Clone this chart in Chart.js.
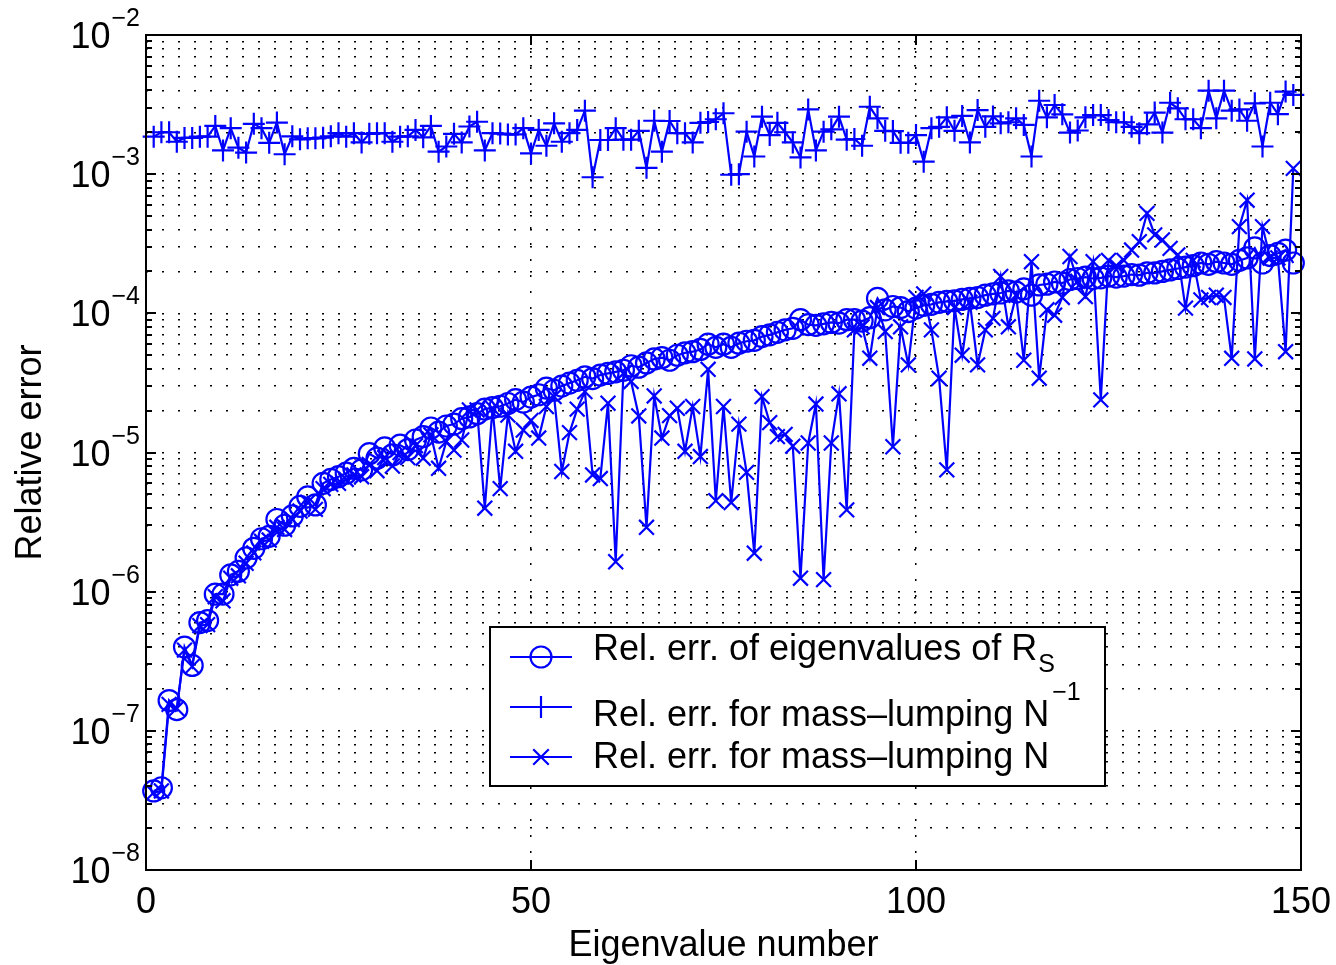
<!DOCTYPE html>
<html>
<head>
<meta charset="utf-8">
<title>Relative error of eigenvalues</title>
<script src="https://cdn.jsdelivr.net/npm/chart.js@4.4.1/dist/chart.umd.min.js"></script>
<style>
  html, body { margin: 0; padding: 0; background: #fff; }
  canvas { display: block; }
</style>
</head>
<body>
<canvas id="relErr" width="1336" height="965"></canvas>
<script>
// rel. err. of eigenvalues of R_S (circles)
const relErrRS = [
  3.7e-8, 3.9e-8, 1.65e-7, 1.42e-7, 4.0e-7, 2.95e-7, 6.0e-7, 6.2e-7, 9.6e-7, 9.6e-7,
  1.32e-6, 1.4e-6, 1.75e-6, 2.05e-6, 2.4e-6, 2.5e-6, 3.3e-6, 3.0e-6, 3.5e-6, 4.1e-6,
  4.8e-6, 4.2e-6, 6.0e-6, 6.4e-6, 6.7e-6, 7.1e-6, 7.7e-6, 7.5e-6, 9.8e-6, 9.1e-6,
  1.08e-5, 9.6e-6, 1.13e-5, 1.05e-5, 1.23e-5, 1.3e-5, 1.5e-5, 1.4e-5, 1.55e-5, 1.6e-5,
  1.75e-5, 1.8e-5, 1.9e-5, 2.05e-5, 2.1e-5, 2.15e-5, 2.25e-5, 2.4e-5, 2.3e-5, 2.5e-5,
  2.6e-5, 2.9e-5, 2.8e-5, 3.0e-5, 3.15e-5, 3.3e-5, 3.5e-5, 3.4e-5, 3.6e-5, 3.7e-5,
  3.8e-5, 3.9e-5, 4.2e-5, 4.1e-5, 4.4e-5, 4.7e-5, 4.8e-5, 4.6e-5, 5.0e-5, 5.2e-5,
  5.3e-5, 5.5e-5, 6.0e-5, 5.7e-5, 6.0e-5, 5.7e-5, 6.1e-5, 6.3e-5, 6.4e-5, 6.8e-5,
  7.0e-5, 7.3e-5, 7.6e-5, 7.8e-5, 9.0e-5, 8.3e-5, 8.2e-5, 8.4e-5, 8.6e-5, 8.5e-5,
  9.0e-5, 9.0e-5, 8.8e-5, 9.3e-5, 1.28e-4, 1.06e-4, 1.12e-4, 1.1e-4, 1.03e-4, 1.09e-4,
  1.14e-4, 1.16e-4, 1.2e-4, 1.22e-4, 1.23e-4, 1.26e-4, 1.28e-4, 1.3e-4, 1.35e-4, 1.38e-4,
  1.4e-4, 1.45e-4, 1.42e-4, 1.5e-4, 1.35e-4, 1.6e-4, 1.62e-4, 1.68e-4, 1.65e-4, 1.75e-4,
  1.78e-4, 1.82e-4, 1.78e-4, 1.8e-4, 1.85e-4, 1.82e-4, 1.85e-4, 1.9e-4, 1.88e-4, 1.95e-4,
  1.95e-4, 2.0e-4, 2.05e-4, 2.1e-4, 2.15e-4, 2.2e-4, 2.3e-4, 2.25e-4, 2.35e-4, 2.3e-4,
  2.25e-4, 2.4e-4, 2.5e-4, 2.95e-4, 2.3e-4, 2.6e-4, 2.7e-4, 2.85e-4, 2.3e-4
];

// mass-lumping N^-1 (plus markers)
const relErrNinv = [
  1.86e-3, 2.0e-3, 2.0e-3, 1.71e-3, 1.82e-3, 1.82e-3, 1.86e-3, 1.86e-3, 2.22e-3, 1.48e-3,
  2.14e-3, 1.55e-3, 1.43e-3, 2.3e-3, 2.14e-3, 1.68e-3, 2.35e-3, 1.39e-3, 1.87e-3, 1.78e-3,
  1.81e-3, 1.81e-3, 1.83e-3, 1.87e-3, 1.97e-3, 1.86e-3, 1.97e-3, 1.69e-3, 1.95e-3, 1.97e-3,
  1.97e-3, 1.71e-3, 1.86e-3, 1.87e-3, 2.08e-3, 1.84e-3, 2.22e-3, 1.45e-3, 1.58e-3, 1.95e-3,
  1.69e-3, 2.2e-3, 2.38e-3, 1.48e-3, 1.97e-3, 1.96e-3, 1.93e-3, 1.93e-3, 2.14e-3, 1.41e-3,
  2.08e-3, 1.6e-3, 2.32e-3, 1.71e-3, 1.97e-3, 2.08e-3, 2.86e-3, 0.95e-3, 1.76e-3, 1.76e-3,
  2.14e-3, 1.77e-3, 1.77e-3, 2.05e-3, 1.11e-3, 2.42e-3, 1.45e-3, 2.41e-3, 1.97e-3, 1.97e-3,
  1.69e-3, 2.34e-3, 2.37e-3, 2.48e-3, 2.74e-3, 0.99e-3, 1.0e-3, 2.02e-3, 1.34e-3, 2.59e-3,
  1.91e-3, 2.34e-3, 2.0e-3, 1.69e-3, 1.32e-3, 2.92e-3, 1.48e-3, 2.02e-3, 2.1e-3, 2.59e-3,
  1.77e-3, 1.79e-3, 1.6e-3, 3.05e-3, 2.52e-3, 2.05e-3, 2.04e-3, 1.68e-3, 1.68e-3, 1.91e-3,
  1.23e-3, 2.14e-3, 2.19e-3, 2.56e-3, 2.05e-3, 2.62e-3, 1.69e-3, 2.89e-3, 2.19e-3, 2.6e-3,
  2.32e-3, 2.36e-3, 2.52e-3, 2.26e-3, 1.34e-3, 3.37e-3, 2.56e-3, 3.14e-3, 2.69e-3, 1.99e-3,
  2.06e-3, 2.56e-3, 2.66e-3, 2.66e-3, 2.45e-3, 2.36e-3, 2.36e-3, 2.19e-3, 1.97e-3, 2.28e-3,
  2.77e-3, 1.99e-3, 3.26e-3, 2.97e-3, 2.48e-3, 2.48e-3, 2.14e-3, 3.98e-3, 2.52e-3, 3.98e-3,
  2.86e-3, 2.92e-3, 2.42e-3, 3.23e-3, 1.58e-3, 3.26e-3, 2.7e-3, 3.92e-3, 3.71e-3
];

// mass-lumping N (x markers)
const relErrN = [
  3.6e-8, 3.7e-8, 1.55e-7, 1.45e-7, 3.8e-7, 2.9e-7, 5.7e-7, 5.8e-7, 9.2e-7, 8.6e-7,
  1.25e-6, 1.3e-6, 1.6e-6, 1.9e-6, 2.3e-6, 2.35e-6, 2.9e-6, 2.8e-6, 3.3e-6, 3.8e-6,
  4.4e-6, 3.9e-6, 5.5e-6, 5.9e-6, 6.0e-6, 6.4e-6, 6.9e-6, 6.7e-6, 8.2e-6, 7.4e-6,
  9.2e-6, 8.0e-6, 1.0e-5, 9.2e-6, 1.12e-5, 9.1e-6, 1.34e-5, 7.7e-6, 1.2e-5, 1.04e-5,
  1.23e-5, 2.02e-5, 2.02e-5, 3.98e-6, 2.08e-5, 5.5e-6, 1.86e-5, 1.02e-5, 1.45e-5, 1.7e-5,
  1.27e-5, 2.14e-5, 2.52e-5, 7.3e-6, 1.39e-5, 2.05e-5, 2.74e-5, 6.9e-6, 6.5e-6, 2.26e-5,
  1.64e-6, 3.7e-5, 3.24e-5, 1.83e-5, 2.9e-6, 2.55e-5, 1.27e-5, 1.84e-5, 2.08e-5, 1.02e-5,
  2.14e-5, 9.35e-6, 3.96e-5, 4.5e-6, 2.14e-5, 4.37e-6, 1.6e-5, 7.2e-6, 1.89e-6, 2.52e-5,
  1.64e-5, 1.3e-5, 1.35e-5, 1.11e-5, 1.25e-6, 1.17e-5, 2.23e-5, 1.22e-6, 1.17e-5, 2.64e-5,
  3.87e-6, 7.6e-5, 8.0e-5, 4.76e-5, 1.1e-4, 7.4e-5, 1.1e-5, 8.0e-5, 4.26e-5, 1.3e-4,
  1.38e-4, 7.6e-5, 3.42e-5, 7.5e-6, 1.1e-4, 5.0e-5, 1.2e-4, 4.26e-5, 7.6e-5, 9.2e-5,
  1.84e-4, 8.0e-5, 1.35e-4, 4.6e-5, 2.35e-4, 3.42e-5, 1.06e-4, 9.7e-5, 1.3e-4, 2.56e-4,
  1.7e-4, 1.32e-4, 2.35e-4, 2.39e-5, 2.4e-4, 2.2e-4, 2.4e-4, 2.85e-4, 3.27e-4, 5.23e-4,
  3.66e-4, 3.37e-4, 2.93e-4, 2.63e-4, 1.09e-4, 2.4e-4, 1.25e-4, 1.3e-4, 1.35e-4, 1.3e-4,
  4.75e-5, 4.2e-4, 6.5e-4, 4.7e-5, 4.2e-4, 2.5e-4, 2.5e-4, 5.3e-5, 1.1e-3
];

// eigenvalue number 1..149
const eigenvalueNumber = relErrRS.map((_, i) => i + 1);

const xTicks = [0, 50, 100, 150];
const yDecades = [-8, -7, -6, -5, -4, -3, -2];

const FONT = "'Liberation Sans', Arial, Helvetica, sans-serif";
const BLUE = '#0000ff';
const FS = 36;   // main font size
const FS_SMALL = 25; // sub/superscripts

// log ticks 1..9 x 10^k, decades are major
const yTickList = [];
yDecades.forEach((e, i) => {
  yTickList.push({ value: Math.pow(10, e), major: true });
  if (i < yDecades.length - 1) {
    for (let m = 2; m <= 9; m++) yTickList.push({ value: m * Math.pow(10, e), major: false });
  }
});

function toPoints(values) {
  return values.map((v, i) => ({ x: eigenvalueNumber[i], y: v }));
}

// legend layout (drawn by hand so that the sub/superscripts are kept)
const legendBox = { left: 490, top: 627, right: 1105, bottom: 786 };
const legendRows = [
  { text: 'Rel. err. of eigenvalues of R', sub: 'S', marker: 'circle', y: 657, base: 660 },
  { text: 'Rel. err. for mass\u2013lumping N', sup: '\u22121', marker: 'cross', y: 707, base: 726 },
  { text: 'Rel. err. for mass\u2013lumping N', marker: 'crossRot', y: 757, base: 768 }
];

function drawMarker(ctx, style, x, y, r) {
  ctx.beginPath();
  if (style === 'circle') {
    ctx.arc(x, y, r, 0, Math.PI * 2);
  } else if (style === 'cross') {
    ctx.moveTo(x - r, y); ctx.lineTo(x + r, y);
    ctx.moveTo(x, y - r); ctx.lineTo(x, y + r);
  } else {
    const d = r * Math.SQRT1_2;
    ctx.moveTo(x - d, y - d); ctx.lineTo(x + d, y + d);
    ctx.moveTo(x - d, y + d); ctx.lineTo(x + d, y - d);
  }
  ctx.stroke();
}

const matlabFrame = {
  id: 'matlabFrame',
  afterDatasetsDraw(chart) {
    const { ctx, chartArea: a, scales: { x, y } } = chart;
    ctx.save();
    ctx.strokeStyle = '#000';
    ctx.lineWidth = 2;
    ctx.strokeRect(a.left, a.top, a.right - a.left, a.bottom - a.top);

    // inward tick marks, left + right, bottom + top
    ctx.beginPath();
    y.ticks.forEach(t => {
      const py = Math.round(y.getPixelForValue(t.value));
      const len = t.major ? 10 : 6;
      ctx.moveTo(a.left, py); ctx.lineTo(a.left + len, py);
      ctx.moveTo(a.right, py); ctx.lineTo(a.right - len, py);
    });
    x.ticks.forEach(t => {
      const px = Math.round(x.getPixelForValue(t.value));
      ctx.moveTo(px, a.bottom); ctx.lineTo(px, a.bottom - 10);
      ctx.moveTo(px, a.top); ctx.lineTo(px, a.top + 10);
    });
    ctx.stroke();

    // y labels 10^k
    ctx.fillStyle = '#000';
    ctx.textAlign = 'left';
    ctx.textBaseline = 'alphabetic';
    yDecades.forEach(e => {
      const py = y.getPixelForValue(Math.pow(10, e));
      const expText = (e < 0 ? '\u2212' : '') + Math.abs(e);
      ctx.font = FS_SMALL + 'px ' + FONT;
      const expW = ctx.measureText(expText).width;
      ctx.font = FS + 'px ' + FONT;
      const baseW = ctx.measureText('10').width;
      const right = a.left - 6;
      ctx.fillText('10', right - expW - baseW - 1, py + 13);
      ctx.font = FS_SMALL + 'px ' + FONT;
      ctx.fillText(expText, right - expW, py - 9);
    });
    ctx.restore();
  },
  afterDraw(chart) {
    const ctx = chart.ctx;
    const b = legendBox;
    ctx.save();
    ctx.fillStyle = '#fff';
    ctx.fillRect(b.left, b.top, b.right - b.left, b.bottom - b.top);
    ctx.strokeStyle = '#000';
    ctx.lineWidth = 2;
    ctx.strokeRect(b.left, b.top, b.right - b.left, b.bottom - b.top);

    legendRows.forEach(row => {
      ctx.strokeStyle = BLUE;
      ctx.lineWidth = 2.2;
      ctx.beginPath();
      ctx.moveTo(510, row.y); ctx.lineTo(572, row.y);
      ctx.stroke();
      drawMarker(ctx, row.marker, 541, row.y, row.marker === 'circle' ? 10.5 : 11);

      ctx.fillStyle = '#000';
      ctx.textAlign = 'left';
      ctx.textBaseline = 'alphabetic';
      ctx.font = FS + 'px ' + FONT;
      ctx.fillText(row.text, 593, row.base);
      const w = ctx.measureText(row.text).width;
      ctx.font = FS_SMALL + 'px ' + FONT;
      if (row.sub) ctx.fillText(row.sub, 593 + w + 1, row.base + 12);
      if (row.sup) ctx.fillText(row.sup, 593 + w + 3, row.base - 26);
    });
    ctx.restore();
  }
};

const gridStyle = { color: '#000', lineWidth: 1.5, drawTicks: false };

new Chart(document.getElementById('relErr').getContext('2d'), {
  type: 'line',
  data: {
    datasets: [
      {
        label: 'Rel. err. of eigenvalues of R_S',
        data: toPoints(relErrRS),
        borderColor: BLUE,
        borderWidth: 2.2,
        pointStyle: 'circle',
        pointRadius: 10.5,
        pointBorderWidth: 2.2,
        pointBorderColor: BLUE,
        pointBackgroundColor: 'rgba(0,0,0,0)',
        tension: 0,
        fill: false,
        clip: false,
        order: 3
      },
      {
        label: 'Rel. err. for mass-lumping N^-1',
        data: toPoints(relErrNinv),
        borderColor: BLUE,
        borderWidth: 2.2,
        pointStyle: 'cross',
        pointRadius: 11,
        pointBorderWidth: 2.2,
        pointBorderColor: BLUE,
        tension: 0,
        fill: false,
        clip: false,
        order: 2
      },
      {
        label: 'Rel. err. for mass-lumping N',
        data: toPoints(relErrN),
        borderColor: BLUE,
        borderWidth: 2.2,
        pointStyle: 'crossRot',
        pointRadius: 10.5,
        pointBorderWidth: 2.2,
        pointBorderColor: BLUE,
        tension: 0,
        fill: false,
        clip: false,
        order: 1
      }
    ]
  },
  options: {
    responsive: false,
    animation: false,
    events: [],
    layout: { padding: { left: 0, right: 35, top: 35, bottom: 0 } },
    plugins: {
      legend: { display: false },
      tooltip: { enabled: false }
    },
    scales: {
      x: {
        type: 'linear',
        min: 0,
        max: 150,
        afterBuildTicks: s => { s.ticks = xTicks.map(v => ({ value: v })); },
        afterFit: s => { s.height = 95; s.paddingLeft = 0; s.paddingRight = 0; },
        grid: gridStyle,
        border: { display: false, dash: [2, 14] },
        ticks: {
          color: '#000',
          font: { family: FONT, size: FS },
          padding: 11,
          maxRotation: 0,
          callback: v => String(v)
        },
        title: {
          display: true,
          text: 'Eigenvalue number',
          color: '#000',
          font: { family: FONT, size: FS },
          padding: { top: 0, bottom: -3 }
        }
      },
      y: {
        type: 'logarithmic',
        min: 1e-8,
        max: 1e-2,
        afterBuildTicks: s => { s.ticks = yTickList.map(t => ({ value: t.value, major: t.major })); },
        afterFit: s => { s.width = 146; s.paddingTop = 0; s.paddingBottom = 0; },
        grid: gridStyle,
        border: { display: false, dash: [2, 14] },
        ticks: { display: false },
        title: {
          display: true,
          text: 'Relative error',
          color: '#000',
          font: { family: FONT, size: FS },
          padding: { top: 9, bottom: 0 }
        }
      }
    }
  },
  plugins: [matlabFrame]
});
</script>
</body>
</html>
